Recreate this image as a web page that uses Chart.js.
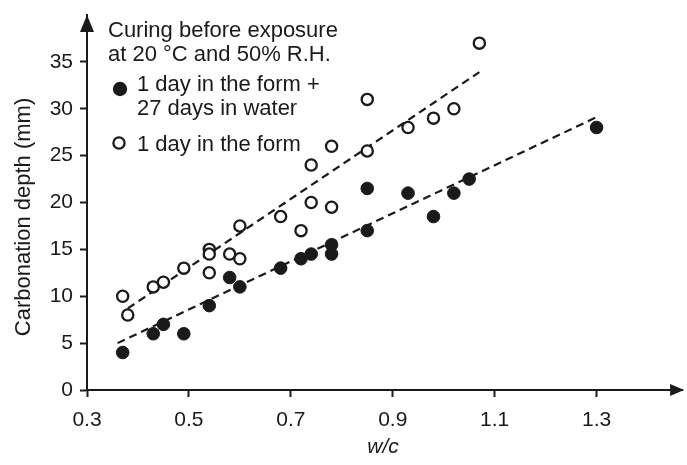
<!DOCTYPE html>
<html>
<head>
<meta charset="utf-8">
<script src="https://cdn.jsdelivr.net/npm/chart.js@4"></script>
<style>
  html, body { margin: 0; padding: 0; background: #fff; }
  #wrap { position: relative; width: 687px; height: 465px; }
</style>
</head>
<body>
<div id="wrap"><canvas id="chart"></canvas></div>
<script>
// values
const xTicks = [0.3, 0.5, 0.7, 0.9, 1.1, 1.3];
const yTicks = [0, 5, 10, 15, 20, 25, 30, 35];

// 1 day in the form + 27 days in water (filled)
const filledX = [0.37, 0.43, 0.45, 0.49, 0.54, 0.58, 0.60, 0.68, 0.72, 0.74, 0.78, 0.78, 0.85, 0.85, 0.93, 0.98, 1.02, 1.05, 1.30];
const filledY = [4, 6, 7, 6, 9, 12, 11, 13, 14, 14.5, 15.5, 14.5, 17, 21.5, 21, 18.5, 21, 22.5, 28];

// 1 day in the form (open)
const openX = [0.37, 0.38, 0.43, 0.45, 0.49, 0.54, 0.54, 0.54, 0.58, 0.60, 0.60, 0.68, 0.72, 0.74, 0.74, 0.78, 0.78, 0.85, 0.85, 0.93, 0.98, 1.02, 1.07];
const openY = [10, 8, 11, 11.5, 13, 15, 14.5, 12.5, 14.5, 14, 17.5, 18.5, 17, 20, 24, 19.5, 26, 25.5, 31, 28, 29, 30, 37];

// dashed trend lines (end points)
const trendFilledX = [0.36, 1.30];
const trendFilledY = [5.0, 29.1];
const trendOpenX = [0.38, 1.07];
const trendOpenY = [8.7, 33.9];

const ink = '#1a1a1a';
const fontFam = '"Liberation Sans", Arial, Helvetica, sans-serif';

function pts(xs, ys) {
    return xs.map((x, i) => ({ x: x, y: ys[i] }));
}

function noPad(s) {
    s.paddingLeft = 0; s.paddingRight = 0; s.paddingTop = 0; s.paddingBottom = 0;
}

// axis arrows + rotated y title
const arrowPlugin = {
    id: 'arrows',
    afterDraw(chart) {
        const { ctx, chartArea } = chart;
        const l = chartArea.left, b = chartArea.bottom, t = chartArea.top, r = chartArea.right;
        ctx.save();
        ctx.fillStyle = ink;
        ctx.strokeStyle = ink;
        ctx.beginPath();
        ctx.moveTo(l, t);
        ctx.lineTo(l - 7, t + 17);
        ctx.lineTo(l + 7, t + 17);
        ctx.closePath();
        ctx.fill();
        // x axis runs a little past the plot area
        ctx.lineWidth = 2;
        ctx.beginPath();
        ctx.moveTo(r - 1, b);
        ctx.lineTo(r + 4, b);
        ctx.stroke();
        ctx.beginPath();
        ctx.moveTo(r + 5, b);
        ctx.lineTo(r - 9, b - 6);
        ctx.lineTo(r - 9, b + 6);
        ctx.closePath();
        ctx.fill();

        ctx.translate(30, 217);
        ctx.rotate(-Math.PI / 2);
        ctx.font = '22px ' + fontFam;
        ctx.textAlign = 'center';
        ctx.textBaseline = 'alphabetic';
        ctx.fillText('Carbonation depth (mm)', 0, 0);
        ctx.restore();
    }
};

// legend block in the upper left
const legendPlugin = {
    id: 'legendBlock',
    afterDraw(chart) {
        const ctx = chart.ctx;
        ctx.save();
        ctx.fillStyle = ink;
        ctx.font = '22px ' + fontFam;
        ctx.textBaseline = 'alphabetic';
        ctx.textAlign = 'left';
        ctx.fillText('Curing before exposure', 108, 37);
        ctx.fillText('at 20 \u00B0C and 50% R.H.', 108, 61);
        ctx.fillText('1 day in the form +', 137, 91);
        ctx.fillText('27 days in water', 137, 115);
        ctx.fillText('1 day in the form', 137, 151);

        ctx.beginPath();
        ctx.arc(120, 89, 7.2, 0, Math.PI * 2);
        ctx.fill();

        ctx.beginPath();
        ctx.arc(119, 143, 5.6, 0, Math.PI * 2);
        ctx.fillStyle = '#fff';
        ctx.fill();
        ctx.lineWidth = 2.3;
        ctx.strokeStyle = ink;
        ctx.stroke();
        ctx.restore();
    }
};

const ctx = document.getElementById('chart').getContext('2d');
const chart = new Chart(ctx, {
    type: 'scatter',
    data: {
        datasets: [
            {
                label: '1 day in the form + 27 days in water',
                data: pts(filledX, filledY),
                pointRadius: 6.3,
                pointBorderWidth: 1,
                pointBackgroundColor: ink,
                pointBorderColor: ink
            },
            {
                label: '1 day in the form',
                data: pts(openX, openY),
                pointRadius: 5.6,
                pointBorderWidth: 2.3,
                pointBackgroundColor: '#fff',
                pointBorderColor: ink
            },
            {
                label: 'trend filled',
                data: pts(trendFilledX, trendFilledY),
                showLine: true,
                pointRadius: 0,
                borderColor: ink,
                borderWidth: 2.2,
                borderDash: [8, 5]
            },
            {
                label: 'trend open',
                data: pts(trendOpenX, trendOpenY),
                showLine: true,
                pointRadius: 0,
                borderColor: ink,
                borderWidth: 2.2,
                borderDash: [8, 5]
            }
        ]
    },
    options: {
        responsive: true,
        maintainAspectRatio: false,
        animation: false,
        layout: { padding: { top: 15, right: 2, left: 0, bottom: 0 } },
        plugins: {
            legend: { display: false },
            tooltip: { enabled: false }
        },
        scales: {
            x: {
                type: 'linear',
                min: 0.3,
                max: 1.462,
                afterBuildTicks: s => { s.ticks = xTicks.map(v => ({ value: v })); },
                afterFit: s => { s.height = 75; noPad(s); },
                grid: { display: true, drawOnChartArea: false, drawTicks: true, tickLength: 7, tickWidth: 2, tickColor: ink },
                border: { display: true, color: ink, width: 2 },
                ticks: {
                    color: ink,
                    padding: 11,
                    font: { size: 21, family: fontFam },
                    callback: v => v.toFixed(1)
                },
                title: {
                    display: true,
                    text: 'w/c',
                    color: ink,
                    font: { size: 21, family: fontFam, style: 'italic' },
                    padding: { top: 0, bottom: 5 }
                }
            },
            y: {
                type: 'linear',
                min: 0,
                max: 40,
                afterBuildTicks: s => { s.ticks = yTicks.map(v => ({ value: v })); },
                afterFit: s => { s.width = 87; noPad(s); },
                grid: { display: true, drawOnChartArea: false, drawTicks: true, tickLength: 7, tickWidth: 2, tickColor: ink },
                border: { display: true, color: ink, width: 2 },
                ticks: {
                    color: ink,
                    padding: 7,
                    font: { size: 21, family: fontFam }
                }
            }
        }
    },
    plugins: [arrowPlugin, legendPlugin]
});
</script>
</body>
</html>
